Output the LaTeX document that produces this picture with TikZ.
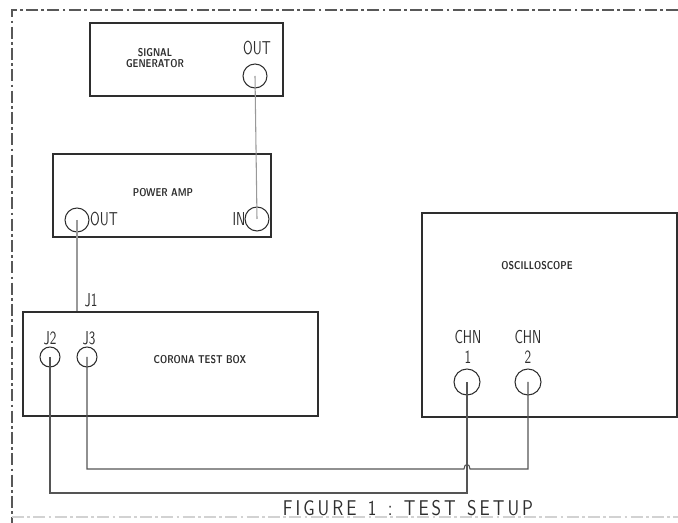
\documentclass[tikz,border=0pt]{standalone}
\usepackage{graphicx}
\newcommand\nar[1]{\scalebox{0.72}[1]{#1}}
\newcommand\narb[1]{\scalebox{0.8}[1]{#1}}
\definecolor{ink}{HTML}{2E2E2E}
\definecolor{wire}{HTML}{555555}
\tikzset{
  unitbox/.style={draw=ink, line width=0.9pt, rectangle, inner sep=0pt},
  jack/.style={draw=ink, line width=0.8pt, circle, inner sep=0pt, minimum size=18pt},
  smalljack/.style={jack, minimum size=15pt},
  bigjack/.style={jack, minimum size=19.5pt},
  biglabel/.style={text=ink, inner sep=0pt, align=center, font=\sffamily\fontsize{14}{14.5}\selectfont},
  smalllabel/.style={text=ink, inner sep=0pt, align=center, font=\sffamily\bfseries\fontsize{8.5}{8}\selectfont},
  cable/.style={draw=wire, line width=0.8pt},
  frame/.style={draw=gray, line width=0.9pt, dash pattern=on 9pt off 2.5pt on 2pt off 2.5pt}
}
\begin{document}
\begin{tikzpicture}[x=0.75pt, y=-0.75pt]
\useasboundingbox (0,0) rectangle (678,523);
% frame
\coordinate (ftl) at (12,10);
\coordinate (ftr) at (678,10);
\coordinate (fbl) at (12,523);
\coordinate (fbl2) at (12,517);
\coordinate (fbr) at (678,517);
\draw[frame, draw=ink!80] (ftr) -- (ftl) -- (fbl);
\draw[frame, draw=gray!35] (fbl2) -- (fbr);

% units
\node[unitbox, minimum width=144.75pt, minimum height=54.75pt] (sg) at (186.5,59.5) {};
\node[unitbox, minimum width=163.5pt, minimum height=62.25pt] (pa) at (162,195.5) {};
\node[unitbox, minimum width=221.25pt, minimum height=78pt] (ctb) at (170.5,364) {};
\node[unitbox, minimum width=191.25pt, minimum height=153pt] (osc) at (549.5,315) {};

% jacks
\node[jack] (sgout) at (255,76) {};
\node[jack] (paout) at (77,220) {};
\node[jack] (pain) at (257,219) {};
\node[smalljack] (j2) at (50,357) {};
\node[smalljack] (j3) at (87,357) {};
\node[bigjack] (ch1) at (467,382) {};
\node[bigjack] (ch2) at (528,382) {};

% labels
\node[smalllabel] (sgl) at (155,58) {\narb{SIGNAL}\\\narb{GENERATOR}};
\node[biglabel] (sgo) at (257,48) {\nar{OUT}};
\node[smalllabel] (pal) at (163,193) {\narb{POWER AMP}};
\node[biglabel] (pao) at (104,219) {\nar{OUT}};
\node[biglabel] (pai) at (239,219) {\nar{IN}};
\node[biglabel] (j1l) at (91,300) {\nar{J1}};
\node[biglabel] (j2l) at (50,338) {\nar{J2}};
\node[biglabel] (j3l) at (89,338) {\nar{J3}};
\node[smalllabel] (ctbl) at (200,360) {\narb{CORONA TEST BOX}};
\node[smalllabel] (oscl) at (537,266) {\narb{OSCILLOSCOPE}};
\node[biglabel] (ch1l) at (468,347) {\nar{CHN}\\\nar{1}};
\node[biglabel] (ch2l) at (528,347) {\nar{CHN}\\\nar{2}};
\node[text=ink, inner sep=0pt, font=\sffamily\fontsize{16}{16}\selectfont] (fig) at (408,508) {\scalebox{0.85}[1]{F\,I\,G\,U\,R\,E\ \ 1\ \ :\ \ T\,E\,S\,T\ \ S\,E\,T\,U\,P}};

% cables
\coordinate (low) at (0,493);
\coordinate (mid) at (0,469);
\coordinate (hopa) at (464,469);
\coordinate (hopb) at (470,469);
\draw[cable, draw=gray!80] (sgout.center) -- (pain.center);
\draw[cable, draw=gray!80] (paout.center) -- (paout.center |- ctb.north);
\draw[cable] (j2.center) -- (j2.center |- low) -| (ch1.center);
\draw[cable] (j3.center) -- (j3.center |- mid) -- (hopa)
  .. controls (464,463) and (470,463) .. (hopb) -| (ch2.center);
\end{tikzpicture}
\end{document}
